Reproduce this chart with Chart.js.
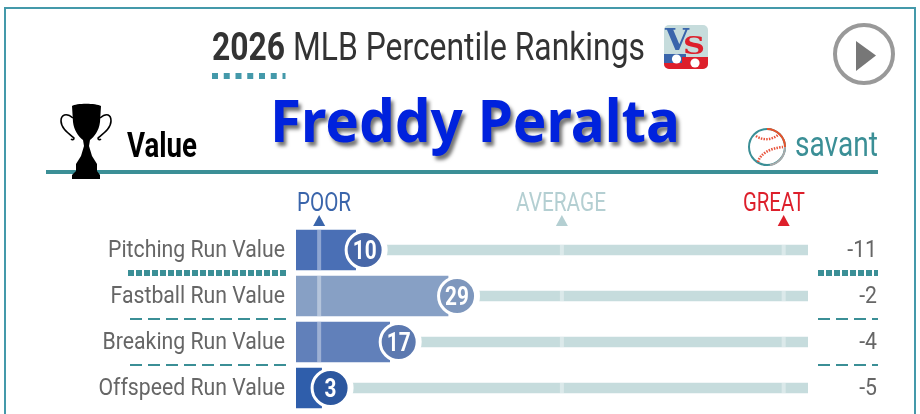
<!DOCTYPE html>
<html><head><meta charset="utf-8">
<script src="https://cdn.jsdelivr.net/npm/chart.js@4"></script>
<style>
html,body{margin:0;padding:0;background:#fff;width:920px;height:414px;overflow:hidden}
#wrap{position:relative;width:920px;height:414px;overflow:hidden}
canvas{position:absolute;left:0;top:0}
.t{position:absolute;white-space:nowrap;font-family:Roboto,sans-serif;transform-origin:0 0;line-height:1}
svg{position:absolute;left:0;top:0}
</style></head><body>
<div id="wrap">
<canvas id="c" width="920" height="414" style="width:920px;height:414px"></canvas>
<svg width="920" height="414" viewBox="0 0 920 414">
  <rect x="5" y="8" width="910" height="440" fill="none" stroke="#4499aa" stroke-width="2"/>
  <line x1="212" x2="285.5" y1="76" y2="76" stroke="#4499aa" stroke-width="6" stroke-dasharray="6 5.75"/>
  <line x1="46" x2="878" y1="172" y2="172" stroke="#3b8f96" stroke-width="4"/>
  <!-- trophy -->
  <g fill="#000">
    <path d="M72 106 C76 103 96 103 101 106 L100 122 C99 131 94 137 90 140 L89 146 L92 156 L97 164 L97 171 L100 175 L100 179 L72 179 L72 175 L76 171 L76 164 L81 156 L84 146 L83 140 C78 136 74 130 73 122 Z"/>
    <g fill="none" stroke="#000" stroke-width="1.6">
      <path d="M73 118 C66 112 61 115 61 121 C61 128 68 133 74 138 C74 140 72 140 71 139"/>
      <path d="M100 118 C107 112 111 115 111 121 C111 128 104 133 98 138 C98 140 100 140 101 139"/>
    </g>
  </g>
  <!-- VS logo -->
  <rect x="664" y="25" width="44" height="44" rx="5" fill="#c6dcdc"/>
  <text x="665" y="50" font-family="'DejaVu Serif',serif" font-weight="700" font-size="30" fill="#3a65ab" textLength="24" lengthAdjust="spacingAndGlyphs">V</text>
  <text x="683" y="54" font-family="'DejaVu Serif',serif" font-weight="700" font-size="24" fill="#dd1f2b" textLength="22" lengthAdjust="spacingAndGlyphs">S</text>
  <path d="M664 54 H686 V63 H664 Z" fill="#3a65ab"/>
  <path d="M682 57 H708 V64 A5 5 0 0 1 703 69 H669 A5 5 0 0 1 664 64 V63 H682 Z" fill="#dd1f2b"/>
  <circle cx="676.5" cy="59" r="4.6" fill="#fff"/><circle cx="695" cy="63" r="4.6" fill="#fff"/>
  <!-- play -->
  <circle cx="864" cy="54" r="29" fill="#fff" stroke="#999" stroke-width="4"/>
  <path d="M856 41 L876 55.5 L856 71 Z" fill="#777"/>
  <!-- baseball -->
  <g fill="none">
    <circle cx="767" cy="147" r="18" stroke="#3b8f96" stroke-width="2"/>
    <path d="M767 129 A18 18 0 0 1 785 147" stroke="#e8532b" stroke-width="2"/>
    <path d="M785 147 A18 18 0 0 1 770 165" stroke="#aaa" stroke-width="2"/>
    <path d="M756 136 C763 141 773 140 779 134" stroke="#e8533b" stroke-width="2.4" stroke-dasharray="1.5 1.2"/>
    <path d="M758 162 C760 154 770 148 783 147" stroke="#e8533b" stroke-width="2.6" stroke-dasharray="1.5 1.2"/>
  </g>
</svg>
<span class="t" data-x="212" data-b="61" data-w="433" style="font-size:38px;color:#333"><b>2026</b> MLB Percentile Rankings</span>
<span class="t" data-x="127" data-b="158" data-w="70" style="font-size:35px;font-weight:700;color:#000">Value</span>
<span class="t" data-x="795" data-b="157" data-w="83" style="font-size:35px;color:#3b8f96">savant</span>
<span class="t" data-x="270" data-b="141" data-w="410" style="font-size:60px;font-family:'Noto Sans',sans-serif;font-weight:700;color:#0022dd;text-shadow:3px 4px 4px rgba(0,0,0,.55)">Freddy Peralta</span>
<span class="t" data-x="297" data-b="211" data-w="54" style="font-size:26px;color:#3a65ab">POOR</span>
<span class="t" data-x="516" data-b="211" data-w="90" style="font-size:26px;color:#b4cfd2">AVERAGE</span>
<span class="t" data-x="743" data-b="211" data-w="62" style="font-size:26px;color:#dd1f2b">GREAT</span>
</div>
<script>
const categories = ['Pitching Run Value','Fastball Run Value','Breaking Run Value','Offspeed Run Value'];
const percentiles = [10,29,17,3];
const runValues = ['-11','-2','-4','-5'];
const barColors = ['#4a6fb5','#87a0c5','#6180ba','#2f5eab'];
const dotColors = ['#4767a8','#7e97bd','#5c79b0','#2c579f'];
const markerValues = [2.5,52.4,98];
const markerColors = ['#3a65ab','#b4cfd2','#dd1f2b'];
const trackEnd = [103,103,103,103];
const AXIS_MIN = -2.26, AXIS_MAX = 103, DOT_SHIFT = 1.85;

document.querySelectorAll('.t').forEach(el=>{
  const fs = parseFloat(getComputedStyle(el).fontSize);
  const r = el.getBoundingClientRect();
  const k = +el.dataset.w / r.width;
  el.style.left = el.dataset.x+'px';
  el.style.top = (+el.dataset.b - fs*0.86)+'px';
  el.style.transform = 'scaleX('+k+')';
});

function narrow(ctx,text,x,y,k,align){
  ctx.save();
  ctx.translate(x,y); ctx.scale(k,1);
  ctx.textAlign=align; ctx.fillText(text,0,0);
  ctx.restore();
}
function dashLine(ctx,x1,x2,y,w,dash){
  ctx.save();ctx.strokeStyle='#3b8f96';ctx.lineWidth=w;ctx.setLineDash(dash);
  ctx.beginPath();ctx.moveTo(x1,y);ctx.lineTo(x2,y);ctx.stroke();ctx.restore();
}
const deco = {
  id:'deco',
  beforeDatasetDraw(chart,args){
    if(args.index!==3) return;
    const {x,y}=chart.scales, ctx=chart.ctx;
    ctx.save();
    ctx.fillStyle='rgba(255,255,255,.38)';
    markerValues.forEach(m=>{
      const px=x.getPixelForValue(m);
      categories.forEach((c,i)=>{
        const cy=y.getPixelForValue(i);
        const h = m+1<percentiles[i] ? 40 : 10;
        ctx.fillRect(px-2,cy-h/2,4,h);
      });
    });
    ctx.restore();
  },
  afterDraw(chart){
    const {x,y}=chart.scales, ctx=chart.ctx, d=chart.scales.x2;
    ctx.save();
    ctx.textBaseline='alphabetic';
    categories.forEach((c,i)=>{
      const cy=y.getPixelForValue(i);
      ctx.font='24px Roboto'; ctx.fillStyle='#666';
      narrow(ctx,c,285,cy+7,0.885,'right');
      narrow(ctx,runValues[i],877,cy+7,0.885,'right');
      ctx.font='700 26px Roboto'; ctx.fillStyle='#fff';
      narrow(ctx,String(percentiles[i]),d.getPixelForValue(percentiles[i]),cy+9,0.8,'center');
      if(i<categories.length-1){
        const sep=(y.getPixelForValue(i)+y.getPixelForValue(i+1))/2;
        if(i===0){dashLine(ctx,128,286,sep,6,[6,2]);dashLine(ctx,818,878,sep,6,[6,2]);}
        else{dashLine(ctx,130,286,sep,2,[12,6]);dashLine(ctx,818,878,sep,2,[12,6]);}
      }
    });
    markerValues.forEach((m,i)=>{
      const px=x.getPixelForValue(m);
      ctx.fillStyle=markerColors[i];
      ctx.beginPath();ctx.moveTo(px-6,226);ctx.lineTo(px+6,226);ctx.lineTo(px,215);ctx.closePath();ctx.fill();
    });
    ctx.restore();
  }
};
new Chart(document.getElementById('c'),{
  type:'bar',
  data:{labels:categories,datasets:[
    {type:'bar',label:'Track',data:trackEnd,base:AXIS_MIN,xAxisID:'x',yAxisID:'y',backgroundColor:'#c6dcdd',barThickness:10,grouped:false,order:5,indexAxis:'y'},
    {type:'scatter',label:'Gap',data:percentiles.map((v,i)=>({x:v,y:i})),xAxisID:'x2',yAxisID:'y',pointRadius:23,pointBackgroundColor:'#fff',pointBorderWidth:0,order:4},
    {type:'bar',label:'Percentile',data:percentiles,base:AXIS_MIN,xAxisID:'x',yAxisID:'y',backgroundColor:barColors,barThickness:40,grouped:false,order:3,indexAxis:'y'},
    {type:'scatter',label:'Rank',data:percentiles.map((v,i)=>({x:v,y:i})),xAxisID:'x2',yAxisID:'y',pointRadius:18.5,pointBackgroundColor:dotColors,pointBorderColor:'#fff',pointBorderWidth:3,order:2}
  ]},
  options:{
    indexAxis:'y',responsive:false,animation:false,devicePixelRatio:1,
    layout:{autoPadding:false,padding:{left:296,right:112,top:227,bottom:3}},
    plugins:{legend:{display:false},tooltip:{enabled:false},title:{display:false}},
    scales:{
      x:{type:'linear',min:AXIS_MIN,max:AXIS_MAX,display:false,grid:{display:false}},
      x2:{type:'linear',min:AXIS_MIN-DOT_SHIFT,max:AXIS_MAX-DOT_SHIFT,display:false,grid:{display:false}},
      y:{type:'category',labels:categories,min:0,max:3,display:false,offset:true,grid:{display:false}}
    }
  },
  plugins:[deco]
});
</script>
</body></html>
